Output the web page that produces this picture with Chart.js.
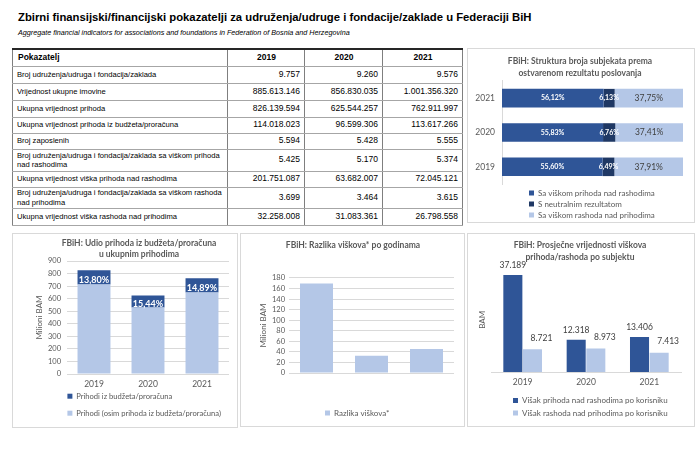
<!DOCTYPE html>
<html>
<head>
<meta charset="utf-8">
<script src="https://cdn.jsdelivr.net/npm/chart.js@4.4.1/dist/chart.umd.min.js"></script>
<style>
html,body{margin:0;padding:0;background:#fff;}
body{width:700px;height:452px;position:relative;overflow:hidden;}
.hdr{position:absolute;left:18px;white-space:nowrap;color:#000;font-family:"Liberation Sans Narrow","Liberation Sans",Arial,sans-serif;}
#h1{top:11px;font-size:11.3px;font-weight:bold;}
#h2{top:28px;font-size:7.2px;font-style:italic;}
#tbl{position:absolute;left:12px;top:48px;border-collapse:collapse;table-layout:fixed;width:450px;font-family:"Liberation Sans Narrow","Liberation Sans",Arial,sans-serif;font-size:8.5px;color:#000;}
#tbl th,#tbl td{border-left:1px solid #7f7f7f;border-right:1px solid #7f7f7f;border-bottom:1px solid #a6a6a6;padding:0 4px 0 5px;line-height:9.5px;overflow:hidden;}
#tbl td.n{font-size:7.6px;padding-left:4px;padding-right:1px;}
#tbl thead th{border-top:2px solid #262626;font-weight:bold;text-align:center;}
#tbl thead th:first-child{text-align:left;}
#tbl td.v{text-align:right;}
.panel{position:absolute;border:1px solid #d9d9d9;box-sizing:border-box;}
canvas{position:absolute;}
</style>
</head>
<body>
<div class="hdr" id="h1">Zbirni finansijski/financijski pokazatelji za udruženja/udruge i fondacije/zaklade u Federaciji BiH</div>
<div class="hdr" id="h2">Aggregate financial indicators for associations and foundations in Federation of Bosnia and Herzegovina</div>
<table id="tbl"></table>

<div class="panel" style="left:467px;top:48px;width:228px;height:175px;"></div>
<div class="panel" style="left:12px;top:233px;width:226px;height:195px;"></div>
<div class="panel" style="left:240px;top:233px;width:225px;height:194px;"></div>
<div class="panel" style="left:467px;top:233px;width:228px;height:194px;"></div>

<canvas id="cA" width="228" height="175" style="left:467px;top:48px;"></canvas>
<canvas id="cB" width="226" height="195" style="left:12px;top:233px;"></canvas>
<canvas id="cC" width="225" height="194" style="left:240px;top:233px;"></canvas>
<canvas id="cD" width="228" height="194" style="left:467px;top:233px;"></canvas>

<script>
// ---------------- DATA ----------------
const years = ['2019', '2020', '2021'];

// Table
const tableHeader = 'Pokazatelj';
const indicatorNames = [
  'Broj udruženja/udruga i fondacija/zaklada',
  'Vrijednost ukupne imovine',
  'Ukupna vrijednost prihoda',
  'Ukupna vrijednost prihoda iz budžeta/proračuna',
  'Broj zaposlenih',
  'Broj udruženja/udruga i fondacija/zaklada sa viškom prihoda nad rashodima',
  'Ukupna vrijednost viška prihoda nad rashodima',
  'Broj udruženja/udruga i fondacija/zaklada sa viškom rashoda nad prihodima',
  'Ukupna vrijednost viška rashoda nad prihodima'
];
const tableValues2019 = [9757, 885613146, 826139594, 114018023, 5594, 5425, 201751087, 3699, 32258008];
const tableValues2020 = [9260, 856830035, 625544257, 96599306, 5428, 5170, 63682007, 3464, 31083361];
const tableValues2021 = [9576, 1001356320, 762911997, 113617266, 5555, 5374, 72045121, 3615, 26798558];

// Chart A: structure of entities by result (%)
const structYears = ['2021', '2020', '2019'];
const shareSurplusIncome = [56.12, 55.83, 55.60];
const shareNeutral = [6.13, 6.76, 6.49];
const shareSurplusExpense = [37.75, 37.41, 37.91];

// Chart B: income from budget vs other income (million BAM)
const budgetIncome = [114.02, 96.60, 113.62];
const otherIncome = [712.12, 528.94, 649.29];
const budgetSharePct = [13.80, 15.44, 14.89];

// Chart C: difference of surpluses (million BAM)
const surplusDifference = [169.49, 32.60, 45.25];

// Chart D: average surplus per entity (BAM)
const avgSurplusIncome = [37189, 12318, 13406];
const avgSurplusExpense = [8721, 8973, 7413];

// ---------------- STYLE ----------------
const FONT = 'Lato, "Open Sans", sans-serif';
const GRAY = '#595959';
const DARKTXT = '#404040';
const DARK = '#2F5597', NAVY = '#1F3864', LIGHT = '#B4C7E7', GRID = '#D9D9D9';

function fmtDots(n) { return String(n).replace(/\B(?=(\d{3})+(?!\d))/g, '.'); }
function fmtPct(v) { return v.toFixed(2).replace('.', ',') + '%'; }

// ---------------- TABLE ----------------
(function buildTable() {
  const tbl = document.getElementById('tbl');
  const rowHeights = [17, 17, 17, 17, 16, 16, 22, 16, 21, 17];
  let html = '<colgroup><col style="width:215px"><col style="width:77px"><col style="width:78px"><col style="width:80px"></colgroup>';
  html += '<thead><tr style="height:' + rowHeights[0] + 'px"><th>' + tableHeader + '</th>' + years.map(y => '<th>' + y + '</th>').join('') + '</tr></thead><tbody>';
  indicatorNames.forEach((name, i) => {
    html += '<tr style="height:' + rowHeights[i + 1] + 'px"><td class="n">' + name + '</td>' +
      '<td class="v">' + fmtDots(tableValues2019[i]) + '</td>' +
      '<td class="v">' + fmtDots(tableValues2020[i]) + '</td>' +
      '<td class="v">' + fmtDots(tableValues2021[i]) + '</td></tr>';
  });
  html += '</tbody>';
  tbl.innerHTML = html;
})();

// ---------------- PLUGINS ----------------
function placer(cfg) {
  return {
    id: 'placer',
    afterLayout(chart) {
      if (cfg.titleX != null && chart.titleBlock) {
        const t = chart.titleBlock; const w = t.right - t.left;
        t.left = cfg.titleX - w / 2; t.right = cfg.titleX + w / 2;
      }
      if (cfg.legendX != null && chart.legend) {
        const l = chart.legend;
        l.left = cfg.legendX; l.right = chart.width;
        l.top = cfg.legendY; l.bottom = chart.height;
        l.width = l.right - l.left; l.height = l.bottom - l.top;
      }
    }
  };
}
function barLabels(items) {
  return {
    id: 'barLabels',
    afterDatasetsDraw(chart) {
      const ctx = chart.ctx;
      items.forEach(it => {
        const meta = chart.getDatasetMeta(it.dataset);
        meta.data.forEach((el, i) => {
          const p = el.getProps(['x', 'y', 'base'], true);
          let x, y;
          if (it.mode === 'hcenter') { x = (p.x + p.base) / 2; y = p.y; }
          else if (it.mode === 'vcenter') { x = p.x; y = (p.y + p.base) / 2; }
          else { x = p.x; y = p.y; }
          x += it.dx || 0; y += it.dy || 0;
          ctx.save();
          ctx.font = (it.weight || 'normal') + ' ' + it.size + 'px ' + FONT;
          ctx.fillStyle = it.color;
          ctx.textAlign = 'center';
          ctx.textBaseline = 'middle';
          ctx.fillText(it.texts[i], x, y);
          ctx.restore();
        });
      });
    }
  };
}

Chart.defaults.font.family = FONT;
Chart.defaults.color = GRAY;

// ---------------- CHART A ----------------
new Chart(document.getElementById('cA'), {
  type: 'bar',
  data: {
    labels: structYears,
    datasets: [
      { label: 'Sa viškom prihoda nad rashodima', data: shareSurplusIncome, backgroundColor: DARK },
      { label: 'S neutralnim rezultatom', data: shareNeutral, backgroundColor: NAVY },
      { label: 'Sa viškom rashoda nad prihodima', data: shareSurplusExpense, backgroundColor: LIGHT }
    ]
  },
  options: {
    indexAxis: 'y', responsive: false, animation: false, events: [],
    layout: { padding: { left: 0, right: 12, top: 0, bottom: 39 } },
    datasets: { bar: { categoryPercentage: 0.54, barPercentage: 1 } },
    scales: {
      x: { stacked: true, min: 0, max: 100, display: false },
      y: {
        stacked: true,
        grid: { display: false, drawTicks: false },
        border: { display: true, color: GRID },
        ticks: { padding: 7, color: GRAY, font: { family: FONT, size: 8.5 } },
        afterFit(s) { s.width = 35; }
      }
    },
    plugins: {
      title: {
        display: true, text: ['FBiH: Struktura broja subjekata prema', 'ostvarenom rezultatu poslovanja'],
        color: GRAY, font: { family: FONT, size: 8.5, weight: 'bold', lineHeight: 1.41 },
        padding: { top: 7, bottom: 2 }
      },
      legend: {
        position: 'chartArea', align: 'start',
        labels: { boxWidth: 5, boxHeight: 5, padding: 3, color: GRAY, font: { family: FONT, size: 8 } }
      },
      tooltip: { enabled: false }
    }
  },
  plugins: [
    placer({ titleX: 113, legendX: 59, legendY: 138 }),
    barLabels([
      { dataset: 0, mode: 'hcenter', texts: shareSurplusIncome.map(fmtPct), color: '#ffffff', size: 7, weight: 'bold' },
      { dataset: 1, mode: 'hcenter', texts: shareNeutral.map(fmtPct), color: '#ffffff', size: 7, weight: 'bold' },
      { dataset: 2, mode: 'hcenter', texts: shareSurplusExpense.map(fmtPct), color: DARKTXT, size: 8.5 }
    ])
  ]
});

// ---------------- CHART B ----------------
new Chart(document.getElementById('cB'), {
  type: 'bar',
  data: {
    labels: years,
    datasets: [
      { label: 'Prihodi (osim prihoda iz budžeta/proračuna)', data: otherIncome, backgroundColor: LIGHT },
      { label: 'Prihodi iz budžeta/proračuna', data: budgetIncome, backgroundColor: DARK }
    ]
  },
  options: {
    responsive: false, animation: false, events: [],
    layout: { padding: { left: 18, right: 9, top: 0, bottom: 40 } },
    datasets: { bar: { categoryPercentage: 0.61, barPercentage: 1 } },
    scales: {
      x: {
        stacked: true,
        grid: { display: false, drawTicks: false },
        border: { display: false },
        ticks: { padding: 5, color: GRAY, font: { family: FONT, size: 8.5 } },
        afterFit(s) { s.height = 14; }
      },
      y: {
        stacked: true, min: 0, max: 900,
        ticks: { stepSize: 100, autoSkip: false, padding: 6, color: GRAY, font: { family: FONT, size: 7.5 } },
        grid: { color: GRID, drawTicks: false },
        border: { display: false },
        title: { display: true, text: 'Milioni BAM', color: GRAY, font: { family: FONT, size: 8 }, padding: { top: 5, bottom: 0 } },
        afterFit(s) { s.width = 37; }
      }
    },
    plugins: {
      title: {
        display: true, text: ['FBiH: Udio prihoda iz budžeta/proračuna', 'u ukupnim prihodima'],
        color: GRAY, font: { family: FONT, size: 8.5, weight: 'bold', lineHeight: 1.26 },
        padding: { top: 5, bottom: 1.6 }
      },
      legend: {
        position: 'chartArea', align: 'start',
        labels: { boxWidth: 5, boxHeight: 5, padding: 9.4, color: GRAY, font: { family: FONT, size: 7.6 },
          sort: (a, b) => b.datasetIndex - a.datasetIndex }
      },
      tooltip: { enabled: false }
    }
  },
  plugins: [
    placer({ titleX: 127, legendX: 46, legendY: 150 }),
    barLabels([
      { dataset: 1, mode: 'vcenter', dy: 3, texts: budgetSharePct.map(fmtPct), color: '#ffffff', size: 9, weight: 'bold' }
    ])
  ]
});

// ---------------- CHART C ----------------
new Chart(document.getElementById('cC'), {
  type: 'bar',
  data: {
    labels: years,
    datasets: [
      { label: 'Razlika viškova*', data: surplusDifference, backgroundColor: LIGHT }
    ]
  },
  options: {
    responsive: false, animation: false, events: [],
    layout: { padding: { left: 14, right: 11, top: 0, bottom: 54 } },
    datasets: { bar: { categoryPercentage: 0.6, barPercentage: 1 } },
    scales: {
      x: {
        grid: { display: false, drawTicks: false },
        border: { display: false },
        ticks: { display: false },
        afterFit(s) { s.height = 0; }
      },
      y: {
        min: 0, max: 180,
        ticks: { stepSize: 20, autoSkip: false, padding: 4, color: GRAY, font: { family: FONT, size: 7.5 } },
        grid: { color: GRID, drawTicks: false },
        border: { display: false },
        title: { display: true, text: 'Milioni BAM', color: GRAY, font: { family: FONT, size: 8 }, padding: { top: 4.2, bottom: 0 } },
        afterFit(s) { s.width = 35; }
      }
    },
    plugins: {
      title: {
        display: true, text: 'FBiH: Razlika viškova* po godinama',
        color: GRAY, font: { family: FONT, size: 8.5, weight: 'bold', lineHeight: 1.41 },
        padding: { top: 6, bottom: 27 }
      },
      legend: {
        position: 'chartArea', align: 'start',
        labels: { boxWidth: 5, boxHeight: 5, padding: 3, color: GRAY, font: { family: FONT, size: 8 } }
      },
      tooltip: { enabled: false }
    }
  },
  plugins: [
    placer({ titleX: 113, legendX: 82, legendY: 173 })
  ]
});

// ---------------- CHART D ----------------
new Chart(document.getElementById('cD'), {
  type: 'bar',
  data: {
    labels: years,
    datasets: [
      { label: 'Višak prihoda nad rashodima po korisniku', data: avgSurplusIncome, backgroundColor: DARK },
      { label: 'Višak rashoda nad prihodima po korisniku', data: avgSurplusExpense, backgroundColor: LIGHT }
    ]
  },
  options: {
    responsive: false, animation: false, events: [],
    layout: { padding: { left: 5, right: 14, top: 0, bottom: 41 } },
    datasets: { bar: { categoryPercentage: 0.62, barPercentage: 0.97 } },
    scales: {
      x: {
        grid: { display: false, drawTicks: false },
        border: { display: true, color: GRID },
        ticks: { padding: 5, color: GRAY, font: { family: FONT, size: 8.5 } },
        afterFit(s) { s.height = 14; }
      },
      y: {
        min: 0, max: 40000,
        ticks: { display: false },
        grid: { display: false, drawTicks: false },
        border: { display: false },
        title: { display: true, text: 'BAM', color: GRAY, font: { family: FONT, size: 8 }, padding: { top: 5.2, bottom: 0 } },
        afterFit(s) { s.width = 19; }
      }
    },
    plugins: {
      title: {
        display: true, text: ['FBiH: Prosječne vrijednosti viškova', 'prihoda/rashoda po subjektu'],
        color: GRAY, font: { family: FONT, size: 8.5, weight: 'bold', lineHeight: 1.41 },
        padding: { top: 6, bottom: 4.7 }
      },
      legend: {
        position: 'chartArea', align: 'start',
        labels: { boxWidth: 5, boxHeight: 5, padding: 4.5, color: GRAY, font: { family: FONT, size: 8 } }
      },
      tooltip: { enabled: false }
    }
  },
  plugins: [
    placer({ titleX: 113, legendX: 41.5, legendY: 159 }),
    barLabels([
      { dataset: 0, mode: 'top', dy: -10, texts: avgSurplusIncome.map(fmtDots), color: DARKTXT, size: 8.5 },
      { dataset: 1, mode: 'top', dx: 9, dy: -11, texts: avgSurplusExpense.map(fmtDots), color: DARKTXT, size: 8.5 }
    ])
  ]
});
</script>
</body>
</html>
